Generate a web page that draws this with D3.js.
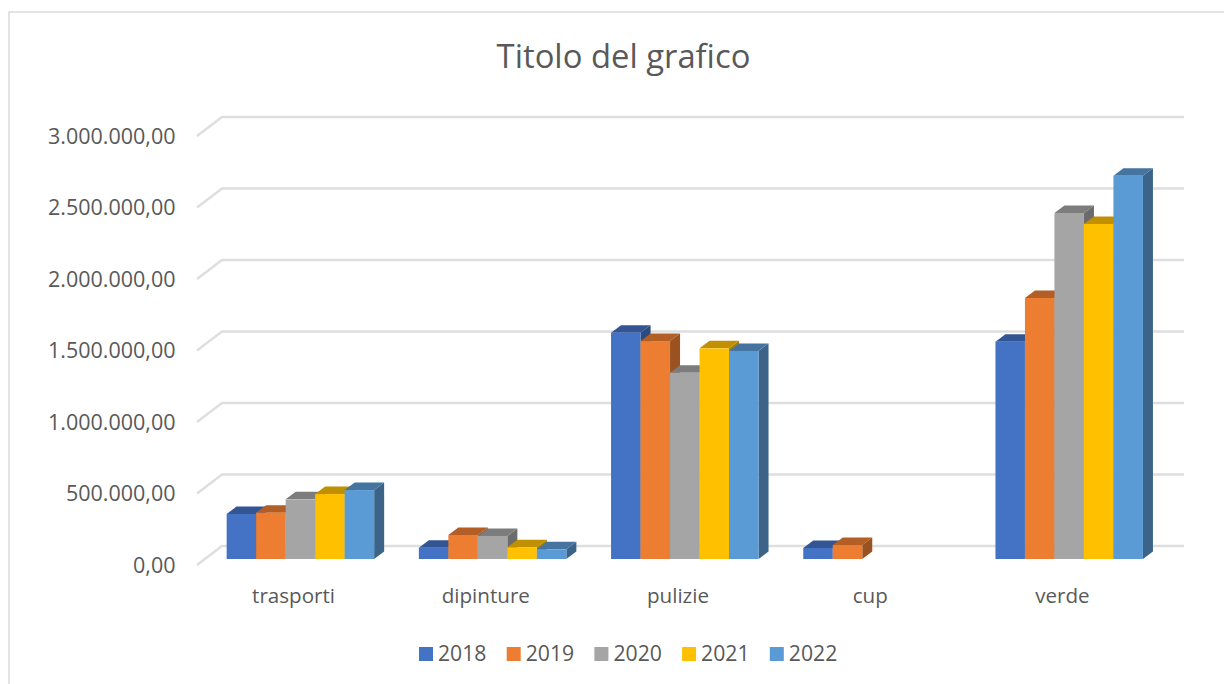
<!DOCTYPE html>
<html><head><meta charset="utf-8">
<script src="https://cdn.jsdelivr.net/npm/d3@7"></script>
<style>html,body{margin:0;padding:0;background:#fff}svg{display:block}text{font-family:"Open Sans",sans-serif;fill:#595959}</style>
</head><body><svg id="c" width="1224" height="684"></svg>
<script>
const title = "Titolo del grafico";
const categories = ["trasporti","dipinture","pulizie","cup","verde"];
const years = ["2018","2019","2020","2021","2022"];
const v2018 = [315000, 79000, 1582000, 77000, 1520000];
const v2019 = [324000, 168000, 1524000, 98000, 1825000];
const v2020 = [417000, 161000, 1303000, null, 2420000];
const v2021 = [454000, 82000, 1473000, null, 2343000];
const v2022 = [482000, 68000, 1455000, null, 2680000];
const series = [v2018, v2019, v2020, v2021, v2022];
const colors = ["#4472C4","#ED7D31","#A5A5A5","#FFC000","#5B9BD5"];
const topColors = ["#335593","#B25E25","#7C7C7C","#C09000","#44749F"];
const sideColors = ["#2A4A80","#9A5220","#6B6B6B","#A67D00","#3B6488"];

const svg = d3.select("#c");
const W = 1224, H = 684;
// oblique projection offsets
const wall = {dx: 25, dy: -19};
const barOff = {dx: 7.6, dy: -6};
const depth = {dx: 10, dy: -7.5};

const x = d3.scaleBand().domain(categories).range([197, 1158]);
const inner = d3.scaleBand().domain(years).range([0, 147.5]);
const groupPad = (x.bandwidth() - inner.range()[1]) / 2;
const y = d3.scaleLinear().domain([0, 3000000]).range([565, 136]);
const it = d3.formatLocale({decimal: ",", thousands: ".", grouping: [3], currency: ["€",""]});
const fmt = it.format(",.2f");
const ticks = y.ticks(6);

// chart frame
svg.append("path").attr("d", `M9,${H} V12 H${W}`).attr("fill","none").attr("stroke","#dcdcdc").attr("stroke-width",1.6);

// title
svg.append("text").attr("x",623.5).attr("y",68).attr("text-anchor","middle").attr("font-size",32.8).text(title);

// gridlines (floor/wall)
const grid = svg.append("g").attr("fill","none").attr("stroke","#dedede").attr("stroke-width",2.4);
ticks.forEach(t => {
  const x0 = x.range()[0], x1 = x.range()[1], yy = y(t);
  grid.append("path").attr("d", `M${x0},${yy} L${x0+wall.dx},${yy+wall.dy} H${x1+wall.dx+1}`);
});

// y axis labels
svg.append("g").selectAll("text").data(ticks).join("text")
  .attr("x",175.5).attr("y",d=>y(d)+7.5).attr("text-anchor","end").attr("font-size",21.5).text(fmt);

// bars
const bars = svg.append("g");
categories.forEach((c, ci) => {
  years.forEach((yr, si) => {
    const v = series[si][ci];
    if (v == null) return;
    const x0 = x(c) + groupPad + inner(yr) + barOff.dx - 0.3;
    const w = inner.bandwidth();
    const yb = y(0) + barOff.dy, yt = y(v) + barOff.dy;
    const g = bars.append("g");
    g.append("path").attr("fill", sideColors[si])
      .attr("d", `M${x0+w},${yt} l${depth.dx},${depth.dy} V${yb+depth.dy} L${x0+w},${yb} Z`);
    g.append("path").attr("fill", topColors[si])
      .attr("d", `M${x0},${yt} l${depth.dx},${depth.dy} h${w} l${-depth.dx},${-depth.dy} Z`);
    g.append("rect").attr("x",x0).attr("y",yt).attr("width",w).attr("height",yb-yt).attr("fill",colors[si]);
  });
});

// category labels
svg.append("g").selectAll("text").data(categories).join("text")
  .attr("x",d=>x(d)+x.bandwidth()/2+0.5).attr("y",602.5).attr("text-anchor","middle").attr("font-size",20.6)
  .text(d=>d);

// legend
const legendX = d3.scaleBand().domain(years).range([419, 857.5]);
const lg = svg.append("g").selectAll("g").data(years).join("g")
  .attr("transform",d=>`translate(${legendX(d)},647)`);
lg.append("rect").attr("width",14).attr("height",14).attr("fill",(d,i)=>colors[i]);
lg.append("text").attr("x",19).attr("y",14).attr("font-size",21.2).text(d=>d);
</script></body></html>
